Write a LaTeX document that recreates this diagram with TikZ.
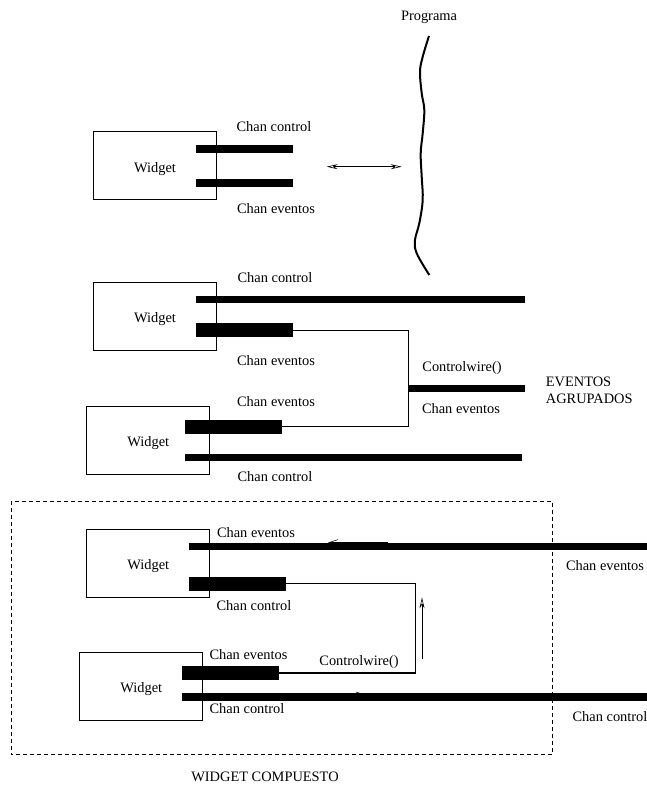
\documentclass[tikz,border=0pt]{standalone}
\usepackage{fontspec}
\setmainfont{Liberation Serif}
\usetikzlibrary{arrows.meta}
\begin{document}
\begin{tikzpicture}[x=1pt,y=-1pt,
  font=\fontsize{14.4}{17}\selectfont,
  widget/.style={draw,line width=0.8pt,minimum width=123pt,minimum height=68pt,inner sep=0pt,
    label={[inner sep=0pt,yshift=-3pt]center:Widget}},
  lbl/.style={inner sep=0pt},
  chan/.style={line width=7.5pt},
  fatchan/.style={line width=14pt},
  wire/.style={line width=1.5pt},
  flow/.style={line width=0.6pt,-{Straight Barb[length=9pt,width=6pt]}},
  thinhead/.tip={Stealth[length=11pt,width=5pt,open]},
  frame/.style={line width=0.8pt,dash pattern=on 4pt off 3pt},
]
\useasboundingbox (0,0) rectangle (647,787);

% ---------- program side ----------
\node[lbl] (prog) at (429,17) {Programa};
\draw[line width=2pt] plot[smooth,tension=0.6] coordinates {
  (429,36) (422.7,56.7) (420,71.7) (421.7,93.3) (424.3,110) (422.7,133.3)
  (420.7,153.3) (421.7,176.7) (422.7,200) (419.3,223.3) (415,240)
  (416.7,253.3) (429.3,275)};

% ---------- single widget ----------
\node[widget] (w1) at (155,165.8) {};
\coordinate (c1a) at (195.7,149);   \coordinate (c1b) at (292.7,149);
\coordinate (e1a) at (195.7,183);   \coordinate (e1b) at (292.7,183);
\draw[chan] (c1a) -- (c1b);
\draw[chan] (e1a) -- (e1b);
\node[lbl] (l1c) at (274,127) {Chan control};
\node[lbl] (l1e) at (276,209) {Chan eventos};
\coordinate (da) at (326.7,166.7);  \coordinate (db) at (401.7,166.7);
\draw[line width=0.6pt,thinhead-thinhead] (da) -- (db);

% ---------- grouped events ----------
\node[widget] (w2) at (155,316.5) {};
\node[widget] (w3) at (148.3,440.2) {};
\coordinate (c2a) at (195.7,299.5); \coordinate (c2b) at (525.3,299.5);
\coordinate (e2a) at (195.7,330.3); \coordinate (e2b) at (292.7,330.3);
\coordinate (e3a) at (185.3,426.7); \coordinate (e3b) at (282,426.7);
\coordinate (c3a) at (185.3,457.5); \coordinate (c3b) at (522,457.5);
\coordinate (j2) at (408.7,330.3);  \coordinate (j3) at (408.7,426.7);
\coordinate (ga) at (408.7,388.3);  \coordinate (gb) at (525.3,388.3);
\draw[wire] (e2b) -- (j2) -- (j3) -- (e3b);
\draw[chan] (c2a) -- (c2b);
\draw[fatchan] (e2a) -- (e2b);
\draw[fatchan] (e3a) -- (e3b);
\draw[chan] (c3a) -- (c3b);
\draw[chan] (ga) -- (gb);
\node[lbl] (l2c) at (275,278) {Chan control};
\node[lbl] (l2e) at (276,361) {Chan eventos};
\node[lbl] (l3e) at (276,401.3) {Chan eventos};
\node[lbl] (l3c) at (275,476.3) {Chan control};
\node[lbl] (lcw) at (462,368) {Controlwire()};
\node[lbl] (lge) at (461,408.7) {Chan eventos};
\node[lbl,anchor=west,align=left] (lagr) at (545.7,390) {EVENTOS\\AGRUPADOS};

% ---------- composite widget ----------
\draw[frame] (11,501) rectangle (552.3,754.7);
\node[lbl] (lcomp) at (265,777) {WIDGET COMPUESTO};
\node[widget] (w4) at (148.3,563.2) {};
\node[widget] (w5) at (141.3,686.5) {};
\coordinate (e4a) at (189,546.5);   \coordinate (e4b) at (647,546.5);
\coordinate (c4a) at (189,583.7);   \coordinate (c4b) at (285.7,583.7);
\coordinate (e5a) at (182,672.8);   \coordinate (e5b) at (278.7,672.8);
\coordinate (c5a) at (182,697);     \coordinate (c5b) at (647,697);
\coordinate (j4) at (415.3,583.7);  \coordinate (j5) at (415.3,672.8);
% direction marks running along the channels
\coordinate (m4a) at (388,542.6);   \coordinate (m4b) at (328,542.6);
\coordinate (m5a) at (300,695);     \coordinate (m5b) at (366,695);
\draw[flow] (m4a) -- (m4b);
\draw[flow] (m5a) -- (m5b);
\draw[wire] (c4b) -- (j4) -- (j5) -- (e5b);
\draw[chan] (e4a) -- (e4b);
\draw[fatchan] (c4a) -- (c4b);
\draw[fatchan] (e5a) -- (e5b);
\draw[chan] (c5a) -- (c5b);
\coordinate (ua) at (422,659);      \coordinate (ub) at (422,597.3);
\draw[line width=0.6pt,-thinhead] (ua) -- (ub);
\node[lbl] (l4e) at (256,532.3) {Chan eventos};
\node[lbl] (l4c) at (254,605.7) {Chan control};
\node[lbl] (l5e) at (248.5,654.7) {Chan eventos};
\node[lbl] (l5c) at (247,709) {Chan control};
\node[lbl] (lcw2) at (359,661.7) {Controlwire()};
\node[lbl] (lre) at (605,565.7) {Chan eventos};
\node[lbl] (lrc) at (610,716.7) {Chan control};
\end{tikzpicture}
\end{document}
